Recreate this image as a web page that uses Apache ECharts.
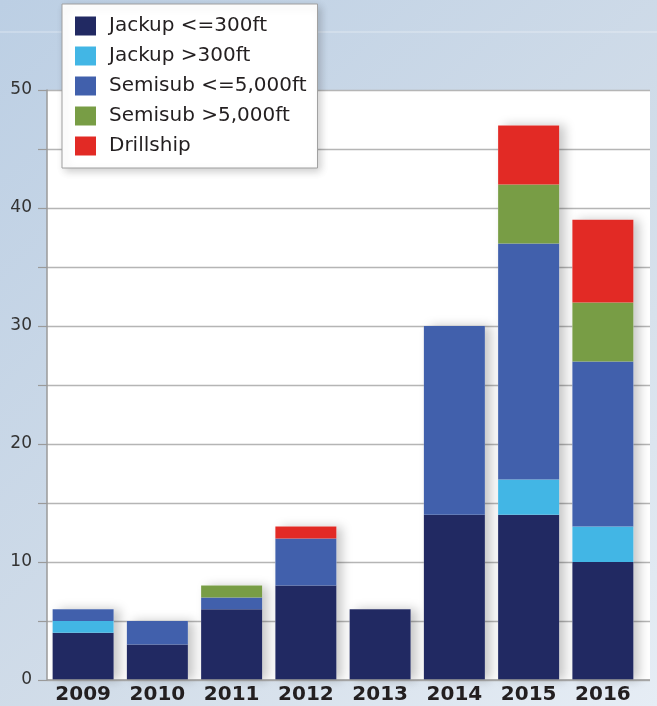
<!DOCTYPE html>
<html>
<head>
<meta charset="utf-8">
<script src="https://cdn.jsdelivr.net/npm/echarts@6/dist/echarts.min.js"></script>
<style>
  html, body { margin: 0; padding: 0; }
  #chart { width: 657px; height: 706px; }
</style>
</head>
<body>
<div id="chart"></div>
<script>
// Rig deliveries per year by rig type
const years = ['2009', '2010', '2011', '2012', '2013', '2014', '2015', '2016'];
const jackupLow = [4, 3, 6, 8, 6, 14, 14, 10];
const jackupHigh = [1, 0, 0, 0, 0, 0, 3, 3];
const semisubLow = [1, 2, 1, 4, 0, 16, 20, 14];
const semisubHigh = [0, 0, 1, 0, 0, 0, 5, 5];
const drillship = [0, 0, 0, 1, 0, 0, 5, 7];
const seriesNames = ['Jackup <=300ft', 'Jackup >300ft', 'Semisub <=5,000ft', 'Semisub >5,000ft', 'Drillship'];
const yTicks = [0, 10, 20, 30, 40, 50];

const colors = ['#212962', '#42b6e5', '#4160ac', '#789d45', '#e22a25'];
const valueSets = [jackupLow, jackupHigh, semisubLow, semisubHigh, drillship];
const totals = years.map((_, i) => valueSets.reduce((s, arr) => s + arr[i], 0));

const FONT = "'DejaVu Sans', sans-serif";

const chart = echarts.init(document.getElementById('chart'), null, { renderer: 'canvas' });

const stackSeries = seriesNames.map((name, k) => ({
  name: name,
  type: 'bar',
  stack: 'rigs',
  xAxisIndex: 1,
  yAxisIndex: 1,
  barWidth: 61,
  barGap: '-100%',
  z: 3,
  itemStyle: { color: colors[k] },
  emphasis: { disabled: true },
  data: valueSets[k]
}));

// white backing bar that carries the soft drop shadow of each column
const shadowSeries = {
  name: 'shadow',
  type: 'bar',
  xAxisIndex: 1,
  yAxisIndex: 1,
  barWidth: 61,
  barGap: '-100%',
  z: 2,
  silent: true,
  itemStyle: {
    color: '#ffffff',
    shadowColor: 'rgba(0,0,0,0.22)',
    shadowBlur: 10,
    shadowOffsetX: 6,
    shadowOffsetY: 0
  },
  data: totals
};

chart.setOption({
  animation: false,
  backgroundColor: {
    type: 'linear', x: 0, y: 0, x2: 1, y2: 1,
    colorStops: [
      { offset: 0, color: '#bccfe4' },
      { offset: 0.6, color: '#d2dde9' },
      { offset: 1, color: '#e6edf5' }
    ]
  },
  graphic: [
    { type: 'line', z: 0, shape: { x1: 0, y1: 32, x2: 657, y2: 32 },
      style: { stroke: 'rgba(255,255,255,0.45)', lineWidth: 1 } },
    { type: 'rect', z: 0, shape: { x: 47, y: 90, width: 603, height: 590 },
      style: { fill: '#ffffff' } }
  ],
  legend: {
    orient: 'vertical',
    left: 62,
    top: 4,
    data: seriesNames,
    icon: 'rect',
    itemWidth: 21,
    itemHeight: 19,
    itemGap: 10,
    padding: [12, 11, 12, 13],
    backgroundColor: '#ffffff',
    borderColor: '#a0a0a0',
    borderWidth: 1,
    shadowColor: 'rgba(0,0,0,0.2)',
    shadowBlur: 8,
    shadowOffsetX: 3,
    shadowOffsetY: 3,
    selectedMode: false,
    textStyle: {
      fontFamily: FONT,
      fontSize: 20,
      color: '#231f20',
      lineHeight: 19,
      padding: [0, 0, 0, 8]
    }
  },
  grid: [
    { left: 47, right: 7, top: 90, bottom: 26 },
    { left: 46, right: 17, top: 90, bottom: 26 }
  ],
  xAxis: [
    { type: 'value', gridIndex: 0, show: false, min: 0, max: 1 },
    {
      type: 'category', gridIndex: 1, data: years,
      axisLine: { show: false },
      axisTick: { show: false },
      axisLabel: {
        fontFamily: FONT, fontSize: 20, fontWeight: 'bold', color: '#231f20', margin: 5
      }
    }
  ],
  yAxis: [
    {
      type: 'value', gridIndex: 0, min: 0, max: 50, interval: 5,
      axisLine: { show: true, lineStyle: { color: '#9a9a9a', width: 1.5 } },
      axisTick: { show: true, length: 9, lineStyle: { color: '#9a9a9a', width: 1.2 } },
      axisLabel: {
        fontFamily: FONT, fontSize: 17, color: '#333333', margin: 15,
        formatter: v => (yTicks.indexOf(v) >= 0 ? String(v) : '')
      },
      splitLine: { show: true, lineStyle: { color: '#b5b5b5', width: 1.3 } }
    },
    { type: 'value', gridIndex: 1, min: 0, max: 50, show: false }
  ],
  series: [
    shadowSeries,
    ...stackSeries,
    {
      // bottom axis rule across the full panel
      type: 'line', xAxisIndex: 0, yAxisIndex: 0, silent: true, symbol: 'none', z: 4,
      lineStyle: { color: '#9a9a9a', width: 1.5 },
      data: [[0, 0], [1, 0]]
    }
  ]
});
</script>
</body>
</html>
